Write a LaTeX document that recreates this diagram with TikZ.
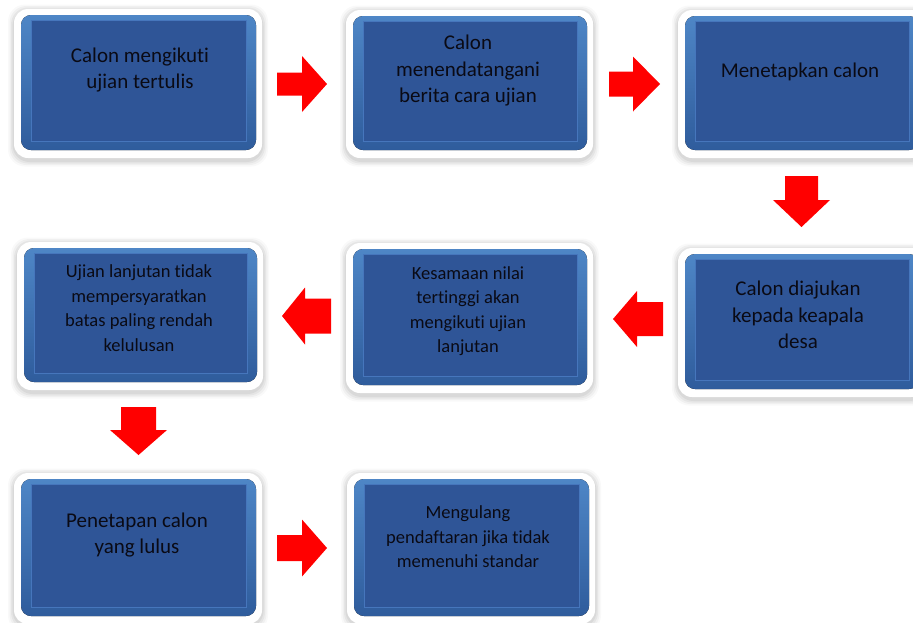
\documentclass[tikz,border=0pt]{standalone}
\usepackage{fontspec}
\setmainfont{Carlito}[RawFeature={-liga;-clig;-calt;-dlig}]
\definecolor{darkfill}{HTML}{2F5597}
\definecolor{darkedge}{HTML}{4676BC}
\definecolor{rimtop}{HTML}{4E86C6}
\definecolor{rimmid}{HTML}{5E9BD6}
\definecolor{rimbot}{HTML}{2F5C9C}
\definecolor{arrowred}{HTML}{FF0000}
\definecolor{txtcol}{HTML}{0A0A14}
\newcommand\flowbox[9]{%
  \foreach \s/\o in {6/0.025,4.5/0.035,3/0.045,1.5/0.05}{%
    \fill[black,opacity=\o,rounded corners=17] ({#2-\s},{#3-\s+1.5}) rectangle ({#4+\s},{#5+\s+2.5});}
  \fill[white,rounded corners=14] (#2,#3) rectangle (#4,#5);
  \fill[rounded corners=10,top color=rimtop,middle color=rimmid,bottom color=rimbot] ({#2+7},{#3+6}) rectangle ({#4-6},{#5-8});
  \node[darkbox,minimum width={#4-#2-33},minimum height={#5-#3-28},anchor=north west] (#1) at ({#2+17},{#3+11}) {};
  \node[#8] (#1t) at (#6,#7) {#9};
}
\newcommand\harr[6]{%
  \fill[arrowred] (#1,{#4-#5}) -- (#3,{#4-#5}) -- (#3,{#4-#6}) -- (#2,#4) -- (#3,{#4+#6}) -- (#3,{#4+#5}) -- (#1,{#4+#5}) -- cycle;}
\newcommand\varr[6]{%
  \fill[arrowred] ({#4-#5},#1) -- ({#4-#5},#3) -- ({#4-#6},#3) -- (#4,#2) -- ({#4+#6},#3) -- ({#4+#5},#3) -- ({#4+#5},#1) -- cycle;}
\begin{document}
\begin{tikzpicture}[x=1pt,y=-1pt,
  darkbox/.style={fill=darkfill,draw=darkedge,line width=0.8pt,inner sep=0pt},
  bigtxt/.style={font=\fontsize{21}{26.5}\selectfont,align=center,text=txtcol,inner sep=0pt},
  smalltxt/.style={font=\fontsize{18.5}{24.5}\selectfont,align=center,text=txtcol,inner sep=0pt}]
\useasboundingbox (0,0) rectangle (913,622);
\clip (0,0) rectangle (913,622);
\fill[white] (0,0) rectangle (913,622);
% row 1
\flowbox{b1}{14}{9}{262}{158}{140}{70}{bigtxt}{Calon mengikuti\\ujian tertulis}
\flowbox{b2}{346}{10}{593}{158}{468}{71}{bigtxt}{Calon\\menendatangani\\berita cara ujian}
\flowbox{b3}{678}{10}{925}{158}{800}{72}{bigtxt}{Menetapkan calon}
% row 2
\flowbox{b4}{17}{242}{263}{390}{139}{308}{smalltxt}{Ujian lanjutan tidak\\mempersyaratkan\\batas paling rendah\\kelulusan}
\flowbox{b5}{346}{243}{593}{393}{468}{311}{smalltxt}{Kesamaan nilai\\tertinggi akan\\mengikuti ujian\\lanjutan}
\flowbox{b6}{678}{248}{925}{397}{798}{315}{bigtxt}{Calon diajukan\\kepada keapala\\desa}
% row 3
\flowbox{b7}{14}{473}{262}{624}{137}{535}{bigtxt}{Penetapan calon\\yang lulus}
\flowbox{b8}{347}{473}{595}{624}{468}{537}{smalltxt}{Mengulang\\pendaftaran jika tidak\\memenuhi standar}
% arrows
\harr{277}{327}{302}{84}{11.5}{28}
\harr{609}{660}{633}{84}{12.5}{27.5}
\varr{176}{227}{200}{801.5}{16.5}{28.5}
\harr{663}{613}{637}{319}{17}{28}
\harr{331}{282}{305}{316}{17.5}{28.5}
\varr{407}{455}{430}{138.5}{17.5}{28.5}
\harr{277}{327}{302}{548}{13}{28.5}
\end{tikzpicture}
\end{document}
